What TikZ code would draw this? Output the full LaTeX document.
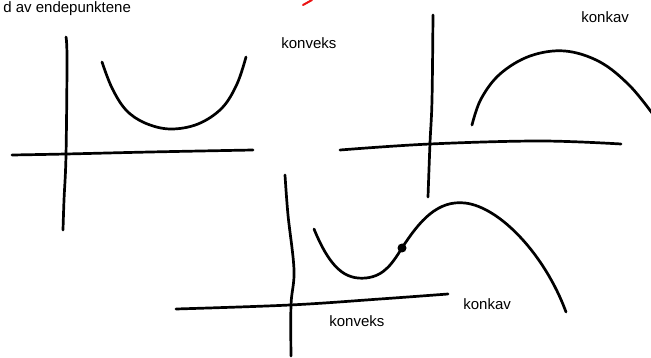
\documentclass[tikz,border=0pt]{standalone}
\usepackage{fontspec}
\setmainfont{Liberation Sans}
\definecolor{inkblack}{RGB}{0,0,0}
\definecolor{inkred}{RGB}{235,20,20}
\usetikzlibrary{positioning,calc}

\begin{document}
\begin{tikzpicture}[x=1pt, y=-1pt, line width=2.7pt, line cap=round, line join=round,
    hand/.style={font=\fontsize{15}{17}\selectfont, inner sep=0pt, inkblack},
    stroke/.style={inkblack, smooth, tension=0.6}]
    \useasboundingbox (0,0) rectangle (651,358);

    % Heading
    \node[hand, anchor=base west] (heading) at (2,13) {d av endepunktene};
    \draw[inkred, line width=2pt] (303,5) -- (312,0);

    % Top left: convex
    \draw[inkblack] plot[stroke] coordinates {(66,37) (67,60) (66,155) (64,200) (63,230)};
    \draw[inkblack] plot[stroke] coordinates {(12,155) (66,154) (150,152) (253,150)};
    \draw[inkblack] plot[stroke] coordinates {(102,62) (112,88) (126,110) (145,123) (170,129) (198,124) (222,108) (237,84) (246,57)};
    \node[hand, anchor=west] (convexA) at (280,43) {konveks};

    % Top right: concave
    \draw[inkblack] plot[stroke] coordinates {(433,15) (432,100) (430,143) (428,197)};
    \draw[inkblack] plot[stroke] coordinates {(340,150) (430,144) (540,141) (621,144)};
    \draw[inkblack] plot[stroke] coordinates {(472,125) (481,99) (500,74) (530,56) (565,51) (600,62) (630,86) (655,117)};
    \node[hand, anchor=west] (concaveA) at (580,17) {konkav};

    % Bottom: convex then concave
    \draw[inkblack] plot[stroke] coordinates {(285,175) (288,215) (294,270) (291,305) (291,356)};
    \draw[inkblack] plot[stroke] coordinates {(176,309) (290,305) (380,299) (448,294)};
    \coordinate (bend) at (402,248);
    \draw[inkblack] (314,229) .. controls (330,268) and (345,280) .. (366,278)
        .. controls (385,276) and (393,262) .. (bend)
        .. controls (420,220) and (438,200) .. (465,203)
        .. controls (500,207) and (545,255) .. (566,312);
    \fill[inkblack] (bend) circle (4.5pt);
    \node[hand, anchor=west] (convexB) at (328,321) {konveks};
    \node[hand, anchor=west] (concaveB) at (462,304) {konkav};
\end{tikzpicture}
\end{document}
